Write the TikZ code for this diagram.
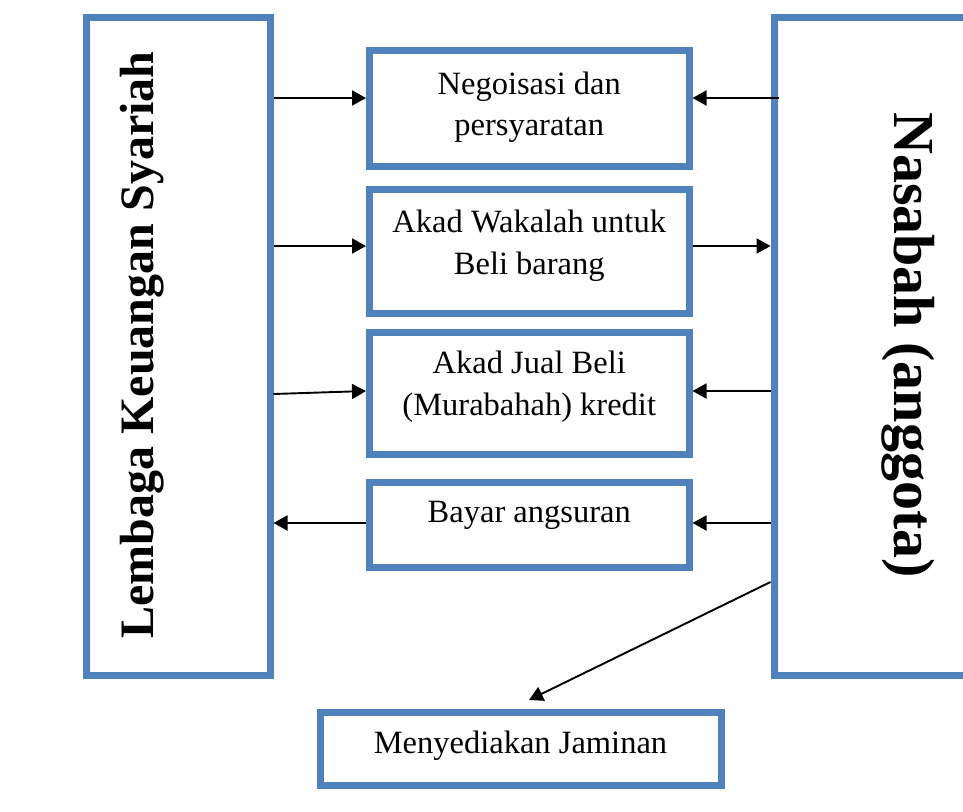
\documentclass[tikz,border=0pt]{standalone}
\usepackage{fontspec}
\setmainfont{Liberation Serif}
\usetikzlibrary{arrows.meta,calc}
\definecolor{frameblue}{HTML}{4F81BD}
\begin{document}
\begin{tikzpicture}[x=1pt,y=-1pt,
  frame/.style={draw=frameblue, line width=7pt, rectangle, inner sep=0pt},
  arr/.style={line width=1.9pt, -{Triangle[length=14pt,width=15pt]}},
  lbl/.style={anchor=base, inner sep=0pt, font=\fontsize{32.5}{40}\selectfont},
  side/.style={anchor=base, inner sep=0pt, font=\bfseries},
]
\useasboundingbox (0,0) rectangle (963,811);
\clip (0,0) rectangle (963,811);
\fill[white] (0,0) rectangle (963,811);

% the two parties
\node[frame, minimum width=184pt, minimum height=657.5pt] (lks) at (178,346.25) {};
\node[frame, minimum width=216pt, minimum height=657.5pt] (nas) at (882,346.25) {};
\node[side, rotate=90, font=\bfseries\fontsize{48}{56}\selectfont] (lkstext) at (153.6,345) {Lembaga Keuangan Syariah};
\node[side, rotate=-90, font=\bfseries\fontsize{58}{66}\selectfont] (nastext) at (894,345) {Nasabah (anggota)};

% steps of the contract
\node[frame, minimum width=319.5pt, minimum height=116pt] (neg) at (529.25,108) {};
\node[frame, minimum width=319.5pt, minimum height=124pt] (wak) at (529.25,251) {};
\node[frame, minimum width=319.5pt, minimum height=122pt] (jual) at (529.25,393) {};
\node[frame, minimum width=319.5pt, minimum height=85pt] (bayar) at (529.25,524.5) {};
\node[frame, minimum width=401pt, minimum height=73pt] (jam) at (520.5,748.5) {};

\node[lbl] (neg1) at (529.25,94) {Negoisasi dan};
\node[lbl] (neg2) at (529.25,135.5) {persyaratan};
\node[lbl] (wak1) at (529.25,232) {Akad Wakalah untuk};
\node[lbl] (wak2) at (529.25,274) {Beli barang};
\node[lbl] (jual1) at (529.25,373) {Akad Jual Beli};
\node[lbl] (jual2) at (529.25,415) {(Murabahah) kredit};
\node[lbl] (bayar1) at (529.25,522) {Bayar angsuran};
\node[lbl] (jam1) at (520.5,753) {Menyediakan Jaminan};

% flows between the parties
\draw[arr] (lks.east |- 0,98) -- (neg.west |- 0,98);
\draw[arr] ($(nas.west |- 0,98)+(8,0)$) -- (neg.east |- 0,98);
\draw[arr] (lks.east |- 0,246) -- (wak.west |- 0,246);
\draw[arr] (wak.east |- 0,246) -- (nas.west |- 0,246);
\draw[arr] (lks.east |- 0,394) -- (jual.west |- 0,391);
\draw[arr] (nas.west |- 0,391) -- (jual.east |- 0,391);
\draw[arr] (bayar.west |- 0,523) -- (lks.east |- 0,523);
\draw[arr] (nas.west |- 0,523) -- (bayar.east |- 0,523);
\coordinate (jamtip) at (529,700);
\draw[arr] (nas.west |- 0,582) -- (jamtip);
\end{tikzpicture}
\end{document}
